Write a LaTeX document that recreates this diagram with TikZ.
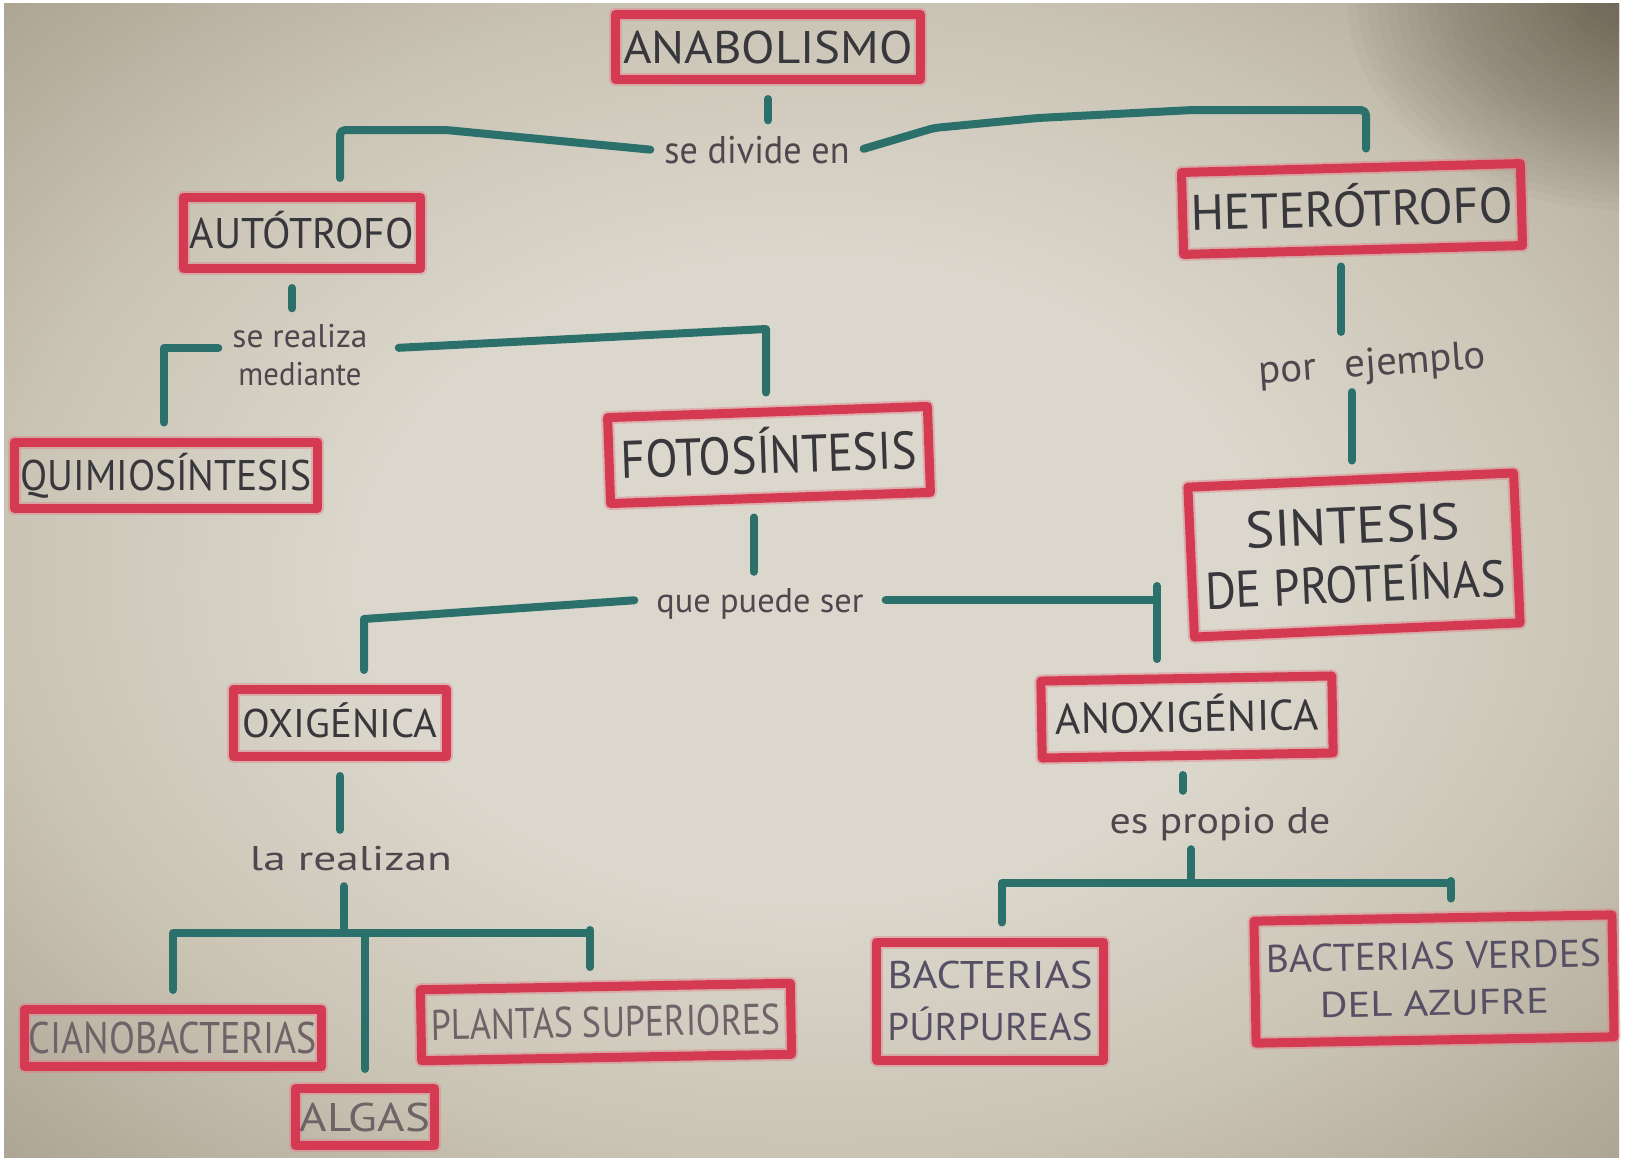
\documentclass[tikz,border=0pt]{standalone}
\usepackage{fontspec}
\setmainfont{PT Sans}
\definecolor{paperlight}{RGB}{219,215,204}
\definecolor{papermid}{RGB}{202,196,181}
\definecolor{paperdark}{RGB}{172,163,145}
\definecolor{cornerdark}{RGB}{88,78,64}
\definecolor{crayonred}{RGB}{212,58,82}
\definecolor{crayonpink}{RGB}{224,128,138}
\definecolor{crayonteal}{RGB}{44,112,108}
\definecolor{pencil}{RGB}{55,55,60}
\definecolor{pencilsoft}{RGB}{78,72,78}
\definecolor{pencilfaded}{RGB}{112,98,102}
\definecolor{pencilviolet}{RGB}{86,80,100}
\pgfdeclareradialshading{paperglow}{\pgfpoint{0bp}{0bp}}{%
  color(0bp)=(paperlight); color(14bp)=(paperlight);
  color(25bp)=(papermid); color(36bp)=(paperdark); color(50bp)=(paperdark)}
% text scaled to a given width and a given letter height
\newcommand{\fitwh}[3]{\resizebox{#1pt}{#2pt}{\smash{#3}\vphantom{X}}}

\begin{document}
\begin{tikzpicture}[x=1pt,y=-1pt,
  concept/.style={draw=crayonred, line width=9pt, line join=round,
    preaction={draw=crayonpink, line width=13pt, opacity=0.45},
    inner sep=0pt, text=pencil, align=center},
  linklabel/.style={inner xsep=10pt, inner ysep=12pt, text=pencilsoft, align=center},
  conn/.style={draw=crayonteal, line width=8pt, line cap=round, line join=round,
    shorten <=4pt, shorten >=4pt},
]
\useasboundingbox (0,0) rectangle (1627,1162);
% paper sheet with darker edges
\fill[white] (0,0) rectangle (1627,1162);
\shade[shading=paperglow] (4,3) rectangle (1619,1157);
\begin{scope}
  \clip (4,3) rectangle (1619,1157);
  \foreach \r in {10,20,...,280} {
    \pgfmathsetmacro\ry{0.75*\r}
    \fill[cornerdark, opacity=0.03] (1627,0) ellipse [x radius=\r, y radius=\ry];
  }
\end{scope}

% concepts
\node[concept, minimum width=305pt, minimum height=65pt] (ana) at (768,47) {\fitwh{290}{32}{ANABOLISMO}};
\node[concept, minimum width=237pt, minimum height=71pt] (auto) at (302,233) {\fitwh{224}{30}{AUTÓTROFO}};
\node[concept, minimum width=339pt, minimum height=82pt, rotate=1.5] (het) at (1352,209) {\fitwh{322}{35}{HETERÓTROFO}};
\node[concept, minimum width=303pt, minimum height=66pt] (quim) at (166,475) {\fitwh{291}{30}{QUIMIOSÍNTESIS}};
\node[concept, minimum width=320pt, minimum height=86pt, rotate=2] (foto) at (769,455) {\fitwh{296}{37}{FOTOSÍNTESIS}};
\node[concept, minimum width=326pt, minimum height=150pt, rotate=2.5] (sint) at (1354,555) {\fitwh{215}{36}{SINTESIS}\\[22pt]\fitwh{300}{36}{DE PROTEÍNAS}};
\node[concept, minimum width=213pt, minimum height=67pt] (oxi) at (340,723) {\fitwh{194}{28}{OXIGÉNICA}};
\node[concept, minimum width=291pt, minimum height=77pt, rotate=1] (anox) at (1187,717) {\fitwh{263}{30}{ANOXIGÉNICA}};
\node[concept, minimum width=297pt, minimum height=57pt, text=pencilfaded] (ciano) at (173,1038) {\fitwh{288}{31}{CIANOBACTERIAS}};
\node[concept, minimum width=370pt, minimum height=71pt, rotate=1, text=pencilfaded] (plantas) at (606,1022) {\fitwh{349}{30}{PLANTAS SUPERIORES}};
\node[concept, minimum width=139pt, minimum height=57pt, text=pencilfaded] (algas) at (365,1117) {\fitwh{130}{28}{ALGAS}};
\node[concept, minimum width=227pt, minimum height=118pt, text=pencilviolet] (purp) at (990,1001) {\fitwh{205}{27}{BACTERIAS}\\[24pt]\fitwh{205}{27}{PÚRPUREAS}};
\node[concept, minimum width=358pt, minimum height=122pt, rotate=1, text=pencilviolet] (verdes) at (1434,979) {\fitwh{335}{27}{BACTERIAS VERDES}\\[20pt]\fitwh{229}{25}{DEL AZUFRE}};

% linking phrases
\node[linklabel] (l1) at (757,150) {\fitwh{185}{27}{se divide en}};
\node[linklabel] (l2) at (300,355) {\fitwh{135}{23}{se realiza}\\[14pt]\fitwh{123}{23}{mediante}};
\node[linklabel, inner xsep=18pt] (l3) at (760,600) {\fitwh{207}{24}{que puede ser}};
\node[linklabel, rotate=4] (l4) at (1372,362) {\fitwh{228}{28}{por\hspace{0.7em}ejemplo}};
\node[linklabel] (l5) at (351,858) {\fitwh{202}{24}{la realizan}};
\node[linklabel] (l6) at (1220,820) {\fitwh{221}{26}{es propio de}};

% bend points
\coordinate (c1a) at (581,143);
\coordinate (c1b) at (446,130);
\coordinate (c1) at (340,130);
\coordinate (c2a) at (934,128);
\coordinate (c2b) at (1038,118);
\coordinate (c2c) at (1193,110);
\coordinate (c2) at (1366,110);
\coordinate (c3) at (164,348);
\coordinate (c4) at (766,329);
\coordinate (c5) at (364,619);
\coordinate (c6) at (1157,582);
\coordinate (c7) at (173,933);
\coordinate (c8) at (590,933);
\coordinate (c8t) at (590,926);
\coordinate (c9) at (1002,883);
\coordinate (c10) at (1451,883);
\coordinate (c10t) at (1451,877);

% connectors
\draw[conn, shorten <=15pt] (ana.south) -- (ana.south |- l1.north);
\draw[conn, shorten >=15pt, rounded corners=5pt] (l1.west) -- (c1a) -- (c1b) -- (c1) -- (c1 |- auto.north);
\draw[conn, shorten >=15pt, rounded corners=5pt] (l1.east) -- (c2a) -- (c2b) -- (c2c) -- (c2) -- (c2 |- het.north);

\draw[conn, shorten <=15pt] ([xshift=-10pt]auto.south) -- ([xshift=-10pt]auto.south |- l2.north);
\draw[conn, shorten >=15pt] (l2.west |- c3) -- (c3) -- (c3 |- quim.north);
\draw[conn, shorten >=15pt] ([xshift=17pt]l2.east |- c3) -- (c4) -- (c4 |- foto.north);

\draw[conn, shorten <=15pt] ([xshift=-17pt]foto.south) -- ([xshift=-17pt]foto.south |- l3.north);
\draw[conn, shorten >=15pt] (l3.west) -- (c5) -- (c5 |- oxi.north);
\draw[conn] (l3.east) -- (l3.east -| c6);
\draw[conn, shorten >=15pt] (c6) -- (c6 |- anox.north);

\draw[conn, shorten <=12pt] ([xshift=-12pt]het.south) -- ([xshift=-12pt]het.south |- l4.north);
\draw[conn, shorten >=15pt] ([xshift=-22pt]l4.south) -- ([xshift=-22pt]l4.south |- sint.north);

\draw[conn, shorten <=15pt] (oxi.south) -- (oxi.south |- l5.north);
\draw[conn] ([xshift=-7pt]l5.south) -- ([xshift=-7pt]l5.south |- c7);
\draw[conn, shorten <=15pt] (c7 |- ciano.north) -- (c7) -- (c8);
\draw[conn, shorten >=15pt] (c8t) -- (c8t |- plantas.north);
\draw[conn, shorten >=15pt] (algas.north |- c7) -- (algas.north);

\draw[conn, shorten <=15pt] ([xshift=-5pt]anox.south) -- ([xshift=-5pt]anox.south |- l6.north);
\draw[conn] ([xshift=-29pt]l6.south) -- ([xshift=-29pt]l6.south |- c9);
\draw[conn, shorten <=15pt] (c9 |- purp.north) -- (c9) -- (c10);
\draw[conn, shorten >=15pt] (c10t) -- (c10t |- verdes.north);
\end{tikzpicture}
\end{document}
